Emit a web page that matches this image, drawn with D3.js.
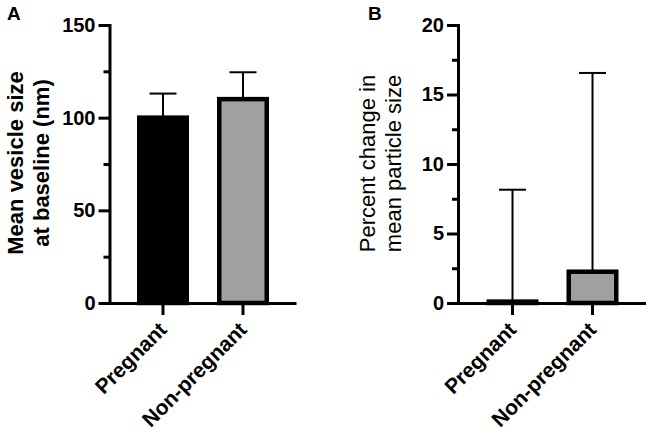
<!DOCTYPE html>
<html>
<head>
<meta charset="utf-8">
<script src="https://cdn.jsdelivr.net/npm/d3@7"></script>
<style>
  html, body { margin: 0; padding: 0; background: #fff; }
  svg { display: block; }
  text { font-family: "Liberation Sans", Arial, Helvetica, sans-serif; fill: #000; }
</style>
</head>
<body>
<svg id="chart" width="646" height="435"></svg>
<script>
// ---- data ----
const categories = ["Pregnant", "Non-pregnant"];
const fills = ["#000000", "#a0a0a0"];

// Panel A: mean vesicle size at baseline (nm)
const baselineMean = [100, 110];
const baselineErr = [13, 14.5];
const ticksA = [0, 50, 100, 150];
const minorTicksA = [25, 75, 125];

// Panel B: percent change in mean particle size
const changeMean = [0.1, 2.25];
const changeErr = [8.05, 14.3];
const ticksB = [0, 5, 10, 15, 20];
const minorTicksB = [2.5, 7.5, 12.5, 17.5];

const svg = d3.select("#chart");

function panel(opts) {
  const g = svg.append("g");
  const y = d3.scaleLinear().domain(opts.ydomain).range([303, 25]);
  const x = d3.scaleBand().domain(categories).range(opts.xrange)
    .paddingInner(0.35).paddingOuter(0.3375);
  const axX = opts.axisX;
  const sw = 4.5;

  // bars
  g.selectAll("rect.bar").data(categories).join("rect")
    .attr("class", "bar")
    .attr("x", d => x(d) + sw / 2)
    .attr("width", x.bandwidth() - sw)
    .attr("y", (d, i) => y(opts.means[i]))
    .attr("height", (d, i) => y(0) - y(opts.means[i]))
    .attr("fill", (d, i) => fills[i])
    .attr("stroke", "#000")
    .attr("stroke-width", sw);

  // error bars (upper only)
  const cap = 13.5;
  categories.forEach((c, i) => {
    const cx = x(c) + x.bandwidth() / 2;
    const top = y(opts.means[i] + opts.errs[i]);
    g.append("line").attr("x1", cx).attr("x2", cx)
      .attr("y1", y(opts.means[i])).attr("y2", top)
      .attr("stroke", "#000").attr("stroke-width", 2);
    g.append("line").attr("x1", cx - cap).attr("x2", cx + cap)
      .attr("y1", top).attr("y2", top)
      .attr("stroke", "#000").attr("stroke-width", 2);
  });

  // y axis major
  const ya = g.append("g").attr("transform", `translate(${axX},0)`)
    .call(d3.axisLeft(y).tickValues(opts.ticks).tickSize(11).tickSizeOuter(0).tickPadding(3));
  ya.select(".domain").attr("stroke-width", 3).attr("stroke-linecap", "square");
  ya.selectAll(".tick line").attr("stroke-width", 3);
  ya.selectAll(".tick text").attr("font-size", 20).attr("font-weight", "bold")
    .attr("font-family", '"Liberation Sans", Arial, sans-serif').attr("fill", "#000");
  // y axis minor
  const ym = g.append("g").attr("transform", `translate(${axX},0)`)
    .call(d3.axisLeft(y).tickValues(opts.minor).tickSize(6).tickFormat(""));
  ym.select(".domain").remove();
  ym.selectAll(".tick line").attr("stroke-width", 3);

  // x axis
  const xa = g.append("g").attr("transform", "translate(0,303)")
    .call(d3.axisBottom(x).tickSize(12).tickSizeOuter(0).tickFormat(""));
  xa.select(".domain").remove();
  xa.selectAll(".tick line").attr("stroke-width", 3);
  g.append("line").attr("x1", axX).attr("x2", opts.xend)
    .attr("y1", 303.5).attr("y2", 303.5)
    .attr("stroke", "#000").attr("stroke-width", 3).attr("stroke-linecap", "square");

  // x labels
  categories.forEach(c => {
    const cx = x(c) + x.bandwidth() / 2;
    g.append("text")
      .attr("transform", `translate(${cx + 5},331) rotate(-45)`)
      .attr("text-anchor", "end")
      .attr("font-size", 21).attr("font-weight", "bold")
      .text(c);
  });

  // y title
  opts.title.forEach((t, i) => {
    g.append("text")
      .attr("transform", `translate(${opts.titleX[i]},${opts.titleY}) rotate(-90)`)
      .attr("text-anchor", "middle")
      .attr("font-size", 22).attr("font-weight", opts.titleWeight)
      .text(t);
  });

  // panel letter
  g.append("text").attr("x", opts.letterX).attr("y", 20)
    .attr("font-size", 19).attr("font-weight", "bold").text(opts.letter);
}

panel({
  ydomain: [0, 150], xrange: [110, 296], axisX: 109.5, xend: 295,
  means: baselineMean, errs: baselineErr, ticks: ticksA, minor: minorTicksA,
  title: ["Mean vesicle size", "at baseline (nm)"], titleX: [23, 49], titleY: 163,
  titleWeight: "bold", letter: "A", letterX: 7
});

panel({
  ydomain: [0, 20], xrange: [459.5, 645.5], axisX: 458, xend: 646,
  means: changeMean, errs: changeErr, ticks: ticksB, minor: minorTicksB,
  title: ["Percent change in", "mean particle size"], titleX: [374.5, 400.5], titleY: 163.5,
  titleWeight: "normal", letter: "B", letterX: 368
});
</script>
</body>
</html>
